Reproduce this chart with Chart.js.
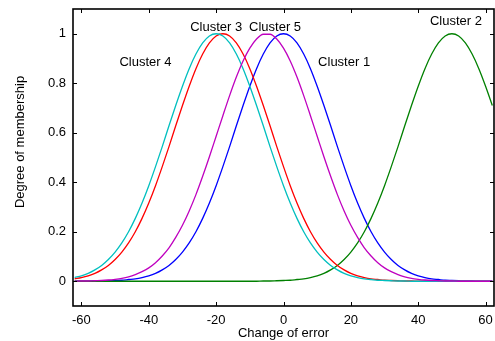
<!DOCTYPE html>
<html>
<head>
<meta charset="utf-8">
<script src="https://cdn.jsdelivr.net/npm/chart.js@4/dist/chart.umd.min.js"></script>
<style>
  html, body { margin: 0; padding: 0; background: #fff; }
  #wrap { width: 495px; height: 341px; position: relative; }
</style>
</head>
<body>
<div id="wrap"><canvas id="c" width="495" height="341"></canvas></div>
<script>
// ---- Data ----
const xValues = [-62,-60,-58,-56,-54,-52,-50,-48,-46,-44,-42,-40,-38,-36,-34,-32,-30,-28,-26,-24,-22,-20,-18,-16,-14,-12,-10,-8,-6,-4,-2,0,2,4,6,8,10,12,14,16,18,20,22,24,26,28,30,32,34,36,38,40,42,44,46,48,50,52,54,56,58,60,62];

const cluster1 = [0,0,0,0.001,0.001,0.002,0.003,0.004,0.007,0.010,0.015,0.022,0.032,0.046,0.064,0.088,0.118,0.155,0.200,0.254,0.316,0.386,0.463,0.544,0.628,0.710,0.788,0.859,0.918,0.963,0.991,1.000,0.991,0.963,0.918,0.859,0.788,0.710,0.628,0.544,0.463,0.386,0.316,0.254,0.200,0.155,0.118,0.088,0.064,0.046,0.032,0.022,0.015,0.010,0.007,0.004,0.003,0.002,0.001,0.001,0,0,0];

const cluster2 = [0,0,0,0,0,0,0,0,0,0,0,0,0,0,0,0,0,0,0,0,0,0,0,0,0,0,0,0,0.001,0.001,0.002,0.003,0.004,0.007,0.010,0.015,0.022,0.032,0.046,0.064,0.088,0.118,0.155,0.200,0.254,0.316,0.386,0.463,0.544,0.628,0.710,0.788,0.859,0.918,0.963,0.991,1.000,0.991,0.963,0.918,0.859,0.788,0.710];

const cluster3 = [0.010,0.015,0.022,0.032,0.046,0.064,0.088,0.118,0.155,0.200,0.254,0.316,0.386,0.463,0.544,0.628,0.710,0.788,0.859,0.918,0.963,0.991,1.000,0.991,0.963,0.918,0.859,0.788,0.710,0.628,0.544,0.463,0.386,0.316,0.254,0.200,0.155,0.118,0.088,0.064,0.046,0.032,0.022,0.015,0.010,0.007,0.004,0.003,0.002,0.001,0.001,0,0,0,0,0,0,0,0,0,0,0,0];

const cluster4 = [0.015,0.022,0.032,0.046,0.064,0.088,0.118,0.155,0.200,0.254,0.316,0.386,0.463,0.544,0.628,0.710,0.788,0.859,0.918,0.963,0.991,1.000,0.991,0.963,0.918,0.859,0.788,0.710,0.628,0.544,0.463,0.386,0.316,0.254,0.200,0.155,0.118,0.088,0.064,0.046,0.032,0.022,0.015,0.010,0.007,0.004,0.003,0.002,0.001,0.001,0,0,0,0,0,0,0,0,0,0,0,0,0];

const cluster5 = [0,0.001,0.001,0.002,0.003,0.005,0.008,0.012,0.018,0.027,0.039,0.054,0.075,0.102,0.135,0.177,0.226,0.284,0.350,0.424,0.503,0.586,0.669,0.750,0.825,0.890,0.942,0.979,0.998,0.998,0.979,0.942,0.890,0.825,0.750,0.669,0.586,0.503,0.424,0.350,0.284,0.226,0.177,0.135,0.102,0.075,0.054,0.039,0.027,0.018,0.012,0.008,0.005,0.003,0.002,0.001,0.001,0,0,0,0,0,0];

const clusterNames = ['Cluster 1','Cluster 2','Cluster 3','Cluster 4','Cluster 5'];
// label anchor points in data units
const labelX = [18.0, 51.2, -20.0, -41.0, -2.5];
const labelY = [0.883, 1.050, 1.024, 0.883, 1.024];

const xTicks = [-60,-40,-20,0,20,40,60];
const xTickLabels = ['-60','-40','-20','0','20','40','60'];
const yTicks = [0,0.2,0.4,0.6,0.8,1];
const yTickLabels = ['0','0.2','0.4','0.6','0.8','1'];

const xTitle = 'Change of error';
const yTitle = 'Degree of membership';

// ---- Chart ----
const FONT = "'Liberation Sans', Arial, Helvetica, sans-serif";
Chart.defaults.font.family = FONT;
Chart.defaults.font.size = 13;
Chart.defaults.color = '#000';

const series = [cluster1, cluster2, cluster3, cluster4, cluster5];
const colors = ['#0000FF', '#008000', '#FF0000', '#00BFBF', '#BF00BF'];
const orders = [5, 4, 3, 2, 1];

const datasets = series.map((vals, k) => ({
  label: clusterNames[k],
  data: xValues.map((x, i) => ({ x: x, y: vals[i] })),
  borderColor: colors[k],
  backgroundColor: colors[k],
  borderWidth: 1.3,
  pointRadius: 0,
  fill: false,
  cubicInterpolationMode: 'monotone',
  order: orders[k]
}));

const framePlugin = {
  id: 'frame',
  afterDraw(chart) {
    const { ctx, chartArea: a, scales } = chart;
    const xs = scales.x, ys = scales.y;
    ctx.save();
    ctx.strokeStyle = '#000';
    // inward tick marks on all four sides
    ctx.lineWidth = 1;
    ctx.beginPath();
    xTicks.forEach(v => {
      const px = Math.round(xs.getPixelForValue(v)) + 0.5;
      ctx.moveTo(px, a.bottom); ctx.lineTo(px, a.bottom - 4);
      ctx.moveTo(px, a.top); ctx.lineTo(px, a.top + 4);
    });
    yTicks.forEach(v => {
      const py = Math.round(ys.getPixelForValue(v)) + 0.5;
      ctx.moveTo(a.left, py); ctx.lineTo(a.left + 4, py);
      ctx.moveTo(a.right, py); ctx.lineTo(a.right - 4, py);
    });
    ctx.stroke();
    // box
    ctx.lineWidth = 1.6;
    ctx.strokeRect(a.left, a.top, a.right - a.left, a.bottom - a.top);

    // cluster labels
    ctx.fillStyle = '#000';
    ctx.font = '13px ' + FONT;
    ctx.textAlign = 'center';
    ctx.textBaseline = 'middle';
    clusterNames.forEach((n, k) => {
      ctx.fillText(n, xs.getPixelForValue(labelX[k]), ys.getPixelForValue(labelY[k]));
    });

    // axis titles
    ctx.fillText(xTitle, (a.left + a.right) / 2, 333);
    ctx.save();
    ctx.translate(20, 142);
    ctx.rotate(-Math.PI / 2);
    ctx.fillText(yTitle, 0, 0);
    ctx.restore();
    ctx.restore();
  }
};

const zeroPad = s => { s.paddingTop = 0; s.paddingBottom = 0; s.paddingLeft = 0; s.paddingRight = 0; };

new Chart(document.getElementById('c'), {
  type: 'line',
  data: { datasets },
  options: {
    responsive: false,
    animation: false,
    layout: { padding: { top: 9, right: 1, left: 0, bottom: 0 } },
    plugins: { legend: { display: false }, tooltip: { enabled: false } },
    scales: {
      x: {
        type: 'linear',
        min: -62.5, max: 62.5,
        afterBuildTicks: s => { s.ticks = xTicks.map(v => ({ value: v })); },
        afterFit: s => { s.height = 35; zeroPad(s); },
        grid: { display: false, drawTicks: false },
        border: { display: false },
        ticks: {
          padding: 7,
          maxRotation: 0,
          autoSkip: false,
          callback: (v) => { const i = xTicks.indexOf(v); return i >= 0 ? xTickLabels[i] : ''; }
        }
      },
      y: {
        type: 'linear',
        min: -0.1, max: 1.1,
        afterBuildTicks: s => { s.ticks = yTicks.map(v => ({ value: v })); },
        afterFit: s => { s.width = 73; zeroPad(s); },
        grid: { display: false, drawTicks: false },
        border: { display: false },
        ticks: {
          padding: 7,
          autoSkip: false,
          callback: (v) => { const i = yTicks.findIndex(t => Math.abs(t - v) < 1e-9); return i >= 0 ? yTickLabels[i] : ''; }
        }
      }
    }
  },
  plugins: [framePlugin]
});
</script>
</body>
</html>
